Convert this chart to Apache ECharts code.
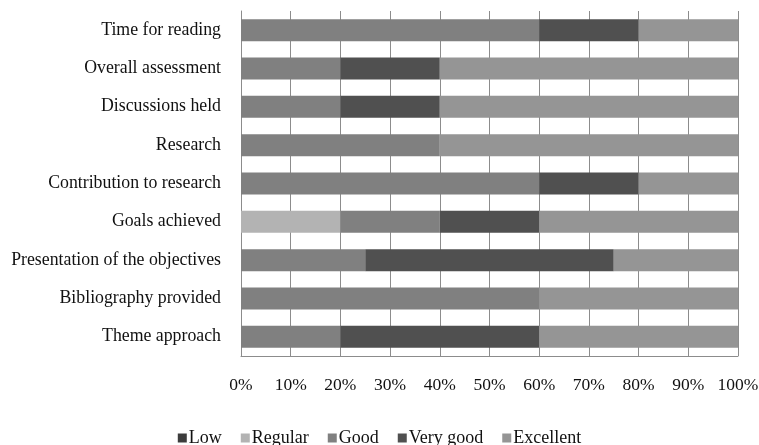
<!DOCTYPE html>
<html>
<head>
<meta charset="utf-8">
<script src="https://cdn.jsdelivr.net/npm/echarts@6/dist/echarts.min.js"></script>
<style>html,body{margin:0;padding:0;background:#fff}#c{width:759px;height:445px}</style>
</head>
<body>
<div id="c"></div>
<script>
const categories = ["Theme approach","Bibliography provided","Presentation of the objectives","Goals achieved","Contribution to research","Research","Discussions held","Overall assessment","Time for reading"];
const seriesNames = ["Low","Regular","Good","Very good","Excellent"];
const low       = [0, 0, 0, 0, 0, 0, 0, 0, 0];
const regular   = [0, 0, 0, 20, 0, 0, 0, 0, 0];
const good      = [20, 60, 25, 20, 60, 40, 20, 20, 60];
const veryGood  = [40, 0, 50, 20, 20, 0, 20, 20, 20];
const excellent = [40, 40, 25, 40, 20, 60, 60, 60, 20];
const tickValues = [0,10,20,30,40,50,60,70,80,90,100];

const colors = ["#3c3c3c","#b3b3b3","#808080","#505050","#959595"];
const values = [low, regular, good, veryGood, excellent];
const font = "'Liberation Serif','Times New Roman',serif";
const txt = '#111';

const chart = echarts.init(document.getElementById('c'), null, {renderer:'canvas'});
chart.setOption({
  animation:false,
  textStyle:{fontFamily:font},
  grid:{left:241,right:21,top:11,bottom:89,containLabel:false,outerBoundsMode:'none'},
  legend:{
    top:424, left:'center',
    icon:'rect', itemWidth:9, itemHeight:9, itemGap:19,
    textStyle:{fontFamily:font,fontSize:18,color:txt,padding:[0,0,0,-3]},
    data:seriesNames
  },
  xAxis:{
    type:'value', min:tickValues[0], max:tickValues[tickValues.length-1], interval:10,
    axisLine:{show:true,onZero:false,lineStyle:{color:'#8c8c8c',width:1}},
    axisTick:{show:false},
    splitLine:{show:true,lineStyle:{color:'#8c8c8c',width:1}},
    axisLabel:{formatter:v=>v+'%',fontFamily:font,fontSize:17.5,color:txt,margin:20}
  },
  yAxis:{
    type:'category', data:categories,
    axisLine:{show:true,lineStyle:{color:'#8c8c8c',width:1}},
    axisTick:{show:false},
    axisLabel:{fontFamily:font,fontSize:17.8,color:txt,margin:20}
  },
  series: seriesNames.map((n,i)=>({
    name:n, type:'bar', stack:'all', barWidth:22,
    itemStyle:{color:colors[i]},
    data:values[i]
  }))
});
</script>
</body>
</html>
